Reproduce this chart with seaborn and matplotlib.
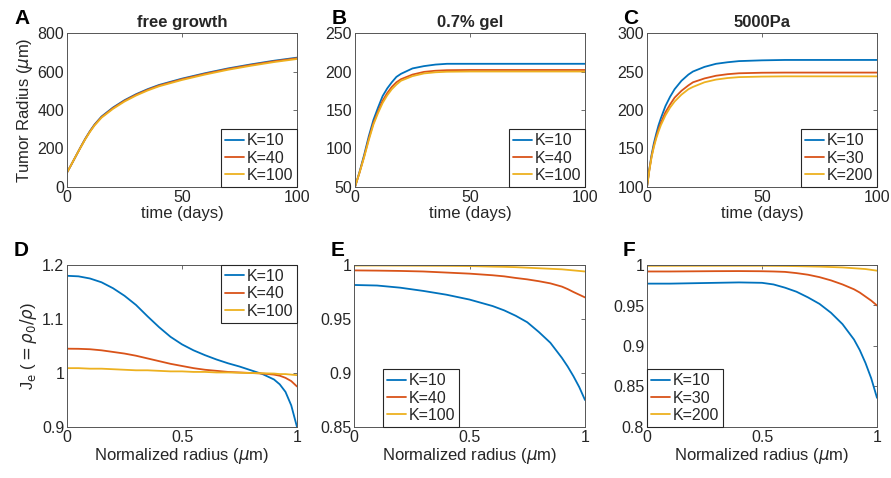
import numpy as np
import pandas as pd
import matplotlib
matplotlib.use("Agg")
import matplotlib.pyplot as plt
import seaborn as sns

# ---------------- data ----------------
# Panel A: free growth
t_A = [0, 2, 4, 6, 8, 10, 12, 15, 20, 25, 30, 35, 40, 50, 60, 70, 80, 90, 100]
A_K10 = [75, 119, 164, 209, 252, 291, 325, 366, 413, 451, 482, 508, 530, 563, 591, 616, 637, 656, 672]
A_K40 = [75, 119, 164, 208, 251, 289, 323, 363, 410, 448, 479, 505, 527, 560, 588, 613, 634, 653, 669]
A_K100 = [75, 119, 164, 207, 249, 287, 320, 360, 406, 444, 475, 501, 523, 556, 584, 609, 630, 649, 665]
labels_A = ["K=10", "K=40", "K=100"]

# Panel B: 0.7% gel
t_B = [0, 2, 4, 6, 8, 10, 12, 14, 16, 18, 20, 25, 30, 35, 40, 50, 60, 80, 100]
B_K10 = [50, 70, 92, 116, 137, 153, 168, 178, 186, 193, 197, 204, 207, 209, 210, 210, 210, 210, 210]
B_K40 = [50, 69, 90, 113, 133, 148, 162, 172, 180, 186, 190, 196, 199.5, 201, 201.7, 202, 202, 202, 202]
B_K100 = [50, 69, 89, 111, 131, 146, 159, 169, 177, 183, 188, 194, 197.5, 199, 199.7, 200, 200, 200, 200]
labels_B = ["K=10", "K=40", "K=100"]

# Panel C: 5000Pa
t_C = [0, 1, 2, 3, 4, 5, 6, 8, 10, 12, 15, 18, 20, 25, 30, 35, 40, 50, 60, 80, 100]
C_K10 = [100, 123, 142, 157, 169, 180, 189, 205, 217, 227, 238, 246, 250, 256, 260, 262, 263.5, 264.5, 265, 265, 265]
C_K30 = [100, 122, 140, 154, 165, 175, 183, 197, 207, 216, 225, 232, 236, 241, 244.5, 246.5, 247.7, 248.4, 248.6, 248.6, 248.6]
C_K200 = [100, 121, 139, 152, 163, 172, 180, 193, 203, 211, 220, 227, 230, 236, 239.5, 241.5, 242.7, 243.4, 243.7, 243.7, 243.7]
labels_C = ["K=10", "K=30", "K=200"]

# Panel D: free growth, J_e profile
r_D = [0, .05, .1, .15, .2, .25, .3, .35, .4, .45, .5, .55, .6, .65, .7, .75, .8, .85, .9, .925, .95, .975, 1]
D_K10 = [1.180, 1.179, 1.175, 1.168, 1.157, 1.143, 1.126, 1.105, 1.085, 1.067, 1.053, 1.042, 1.033,
         1.025, 1.018, 1.012, 1.005, 0.998, 0.988, 0.979, 0.965, 0.940, 0.900]
D_K40 = [1.045, 1.0448, 1.044, 1.042, 1.039, 1.036, 1.032, 1.027, 1.022, 1.017, 1.013, 1.009, 1.006,
         1.004, 1.002, 1.001, 1.000, 0.999, 0.997, 0.995, 0.991, 0.985, 0.975]
D_K100 = [1.009, 1.009, 1.008, 1.008, 1.007, 1.006, 1.005, 1.005, 1.004, 1.003, 1.003, 1.002, 1.002,
          1.001, 1.001, 1.0005, 1.000, 0.9995, 0.999, 0.998, 0.998, 0.997, 0.996]
labels_D = ["K=10", "K=40", "K=100"]

# Panel E: 0.7% gel, J_e profile
r_E = [0, .1, .2, .3, .4, .5, .6, .65, .7, .75, .8, .85, .9, .925, .95, .975, 1]
E_K10 = [.9815, .981, .979, .976, .9725, .968, .962, .958, .953, .947, .938, .928, .914, .906, .897, .887, .875]
E_K40 = [.995, .9948, .9945, .994, .993, .992, .9905, .9895, .988, .9867, .985, .983, .980, .9777, .975, .9725, .970]
E_K100 = [.9995, .9995, .9994, .9993, .9992, .999, .9985, .9983, .998, .9975, .997, .9965, .996, .9955, .995, .9945, .994]
labels_E = ["K=10", "K=40", "K=100"]

# Panel F: 5000Pa, J_e profile
r_F = [0, .1, .2, .3, .4, .5, .55, .6, .65, .7, .75, .8, .85, .9, .925, .95, .975, 1]
F_K10 = [.977, .977, .9775, .978, .9785, .978, .976, .972, .967, .960, .952, .941, .927, .908, .895, .879, .860, .836]
F_K30 = [.992, .992, .9922, .9924, .9925, .9923, .992, .9915, .990, .988, .985, .981, .976, .970, .966, .961, .956, .950]
F_K200 = [.999, .999, .999, .999, .999, .999, .9989, .9988, .9986, .9983, .998, .9975, .997, .996, .9955, .995, .994, .993]
labels_F = ["K=10", "K=30", "K=200"]

titles = ["free growth", "0.7% gel", "5000Pa"]
letters = ["A", "B", "C", "D", "E", "F"]

# ---------------- style ----------------
sns.set_theme(style="white")
plt.rcParams["font.family"] = ["Liberation Sans", "DejaVu Sans"]
plt.rcParams["mathtext.fontset"] = "dejavusans"
colors = ["#0072BD", "#D95319", "#EDB120"]
TXT = "#262626"

fig = plt.figure(figsize=(8.91, 4.78), dpi=100)
W, H = 891, 478


def add_ax(left, top, right, bottom):
    return fig.add_axes([left / W, (H - bottom) / H, (right - left) / W, (bottom - top) / H])


axA = add_ax(67, 33, 297, 187)
axB = add_ax(355, 33, 585, 187)
axC = add_ax(647, 33, 877, 187)
axD = add_ax(67, 265, 297, 427)
axE = add_ax(354, 265, 585, 427)
axF = add_ax(647, 265, 877, 427)

panels = [
    (axA, t_A, [A_K10, A_K40, A_K100], labels_A, (0, 100), (0, 800), [0, 200, 400, 600, 800], ["0", "200", "400", "600", "800"]),
    (axB, t_B, [B_K10, B_K40, B_K100], labels_B, (0, 100), (50, 250), [50, 100, 150, 200, 250], ["50", "100", "150", "200", "250"]),
    (axC, t_C, [C_K10, C_K30, C_K200], labels_C, (0, 100), (100, 300), [100, 150, 200, 250, 300], ["100", "150", "200", "250", "300"]),
    (axD, r_D, [D_K10, D_K40, D_K100], labels_D, (0, 1), (0.9, 1.2), [0.9, 1.0, 1.1, 1.2], ["0.9", "1", "1.1", "1.2"]),
    (axE, r_E, [E_K10, E_K40, E_K100], labels_E, (0, 1), (0.85, 1.0), [0.85, 0.9, 0.95, 1.0], ["0.85", "0.9", "0.95", "1"]),
    (axF, r_F, [F_K10, F_K30, F_K200], labels_F, (0, 1), (0.8, 1.0), [0.8, 0.85, 0.9, 0.95, 1.0], ["0.8", "0.85", "0.9", "0.95", "1"]),
]

legend_specs = [
    dict(loc="lower right", bbox_to_anchor=(1.0, 0.0)),
    dict(loc="lower right", bbox_to_anchor=(1.0, 0.0)),
    dict(loc="lower right", bbox_to_anchor=(1.0, 0.0)),
    dict(loc="upper right", bbox_to_anchor=(1.0, 1.0)),
    dict(loc="lower left", bbox_to_anchor=(0.125, 0.0)),
    dict(loc="lower left", bbox_to_anchor=(0.0, 0.0)),
]

for i, (ax, xs, ys, labs, xl, yl, yt, ytl) in enumerate(panels):
    frames = []
    for lab, yv in zip(labs, ys):
        frames.append(pd.DataFrame({"x": xs, "y": yv, "K": lab}))
    df = pd.concat(frames, ignore_index=True)
    sns.lineplot(data=df, x="x", y="y", hue="K", hue_order=labs, palette=colors,
                 ax=ax, linewidth=1.3, legend=False, estimator=None, sort=False)
    ax.set_xlim(*xl)
    ax.set_ylim(*yl)
    if xl[1] == 100:
        ax.set_xticks([0, 50, 100])
        ax.set_xticklabels(["0", "50", "100"])
    else:
        ax.set_xticks([0, 0.5, 1])
        ax.set_xticklabels(["0", "0.5", "1"])
    ax.set_yticks(yt)
    ax.set_yticklabels(ytl)
    ax.tick_params(axis="both", direction="in", length=3, width=0.6, colors="#555555",
                   labelcolor=TXT, labelsize=11.5, pad=2, top=True, right=True)
    for s in ax.spines.values():
        s.set_color("#555555")
        s.set_linewidth(0.7)
    ax.set_xlabel("time (days)" if i < 3 else r"Normalized radius ($\mu$m)", fontsize=12, color=TXT, labelpad=1)
    ax.set_ylabel("")
    handles = ax.get_lines()[:3]
    leg = ax.legend(handles, labs, fontsize=11.5, frameon=True, fancybox=False,
                    edgecolor="#262626", framealpha=1, borderpad=0.25, labelspacing=0.15,
                    handlelength=1.2, handletextpad=0.15, borderaxespad=0.0, **legend_specs[i])
    leg.get_frame().set_linewidth(0.8)
    for t in leg.get_texts():
        t.set_color(TXT)
    if i < 3:
        ax.set_title(titles[i], fontsize=12, fontweight="bold", color=TXT, pad=4)

axA.set_ylabel(r"Tumor Radius ($\mu$m)", fontsize=12, color=TXT, labelpad=2)
axD.set_ylabel(r"J$_{\rm e}$ ($=\rho_0/\rho$)", fontsize=12, color=TXT, labelpad=2)

letter_pos = [(14, 18), (332, 18), (623, 18), (14, 250), (331, 250), (623, 250)]
for L, (px, py) in zip(letters, letter_pos):
    fig.text(px / W, 1 - py / H, L, fontsize=15, fontweight="bold", color="black", va="center", ha="left")

fig.savefig("out.png", dpi=100)
